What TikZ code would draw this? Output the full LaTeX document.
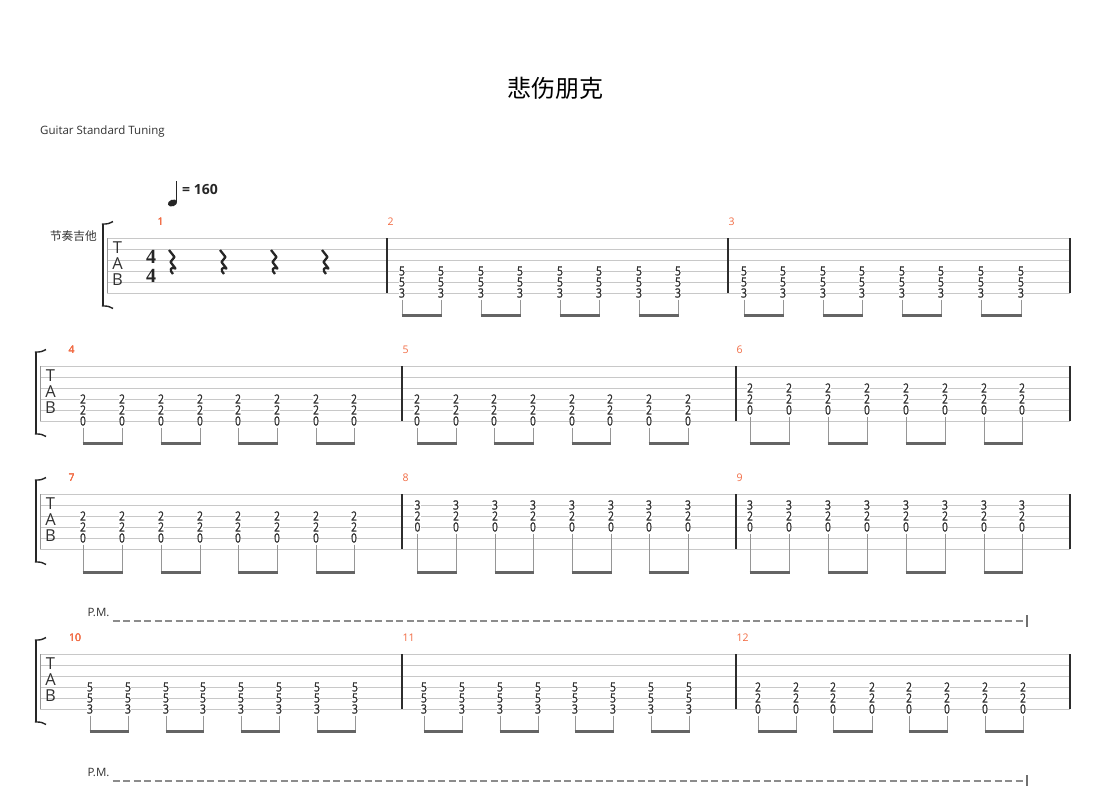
\documentclass[tikz,border=0pt]{standalone}
\usepackage{fontspec}
\setsansfont{Open Sans}
\newfontfamily\cjk{Noto Sans CJK SC}
\newfontfamily\sigfont{Liberation Serif}
\newfontfamily\fretfont[FakeStretch=0.8, FakeBold=1.3]{Open Sans}

\definecolor{linegray}{RGB}{200,200,200}
\definecolor{bargray}{RGB}{45,45,45}
\definecolor{inkgray}{RGB}{50,50,50}
\definecolor{stemgray}{RGB}{150,150,150}
\definecolor{beamgray}{RGB}{100,100,100}
\definecolor{numred}{RGB}{242,108,68}
\definecolor{pmgray}{RGB}{140,140,140}

\tikzset{
	staffline/.style={draw=linegray, line width=0.9pt},
	barline/.style={draw=bargray, line width=1.1pt},
	fret/.style={fill=white, inner sep=0.3pt, text=inkgray, font=\fretfont\fontsize{12.8}{12.8}\selectfont},
	stem/.style={draw=stemgray, line width=1pt, shorten <=1.5pt},
	beam/.style={draw=beamgray, line width=3pt, shorten <=-0.5pt, shorten >=-0.5pt},
	barnum/.style={anchor=west, inner sep=0pt, text=numred, font=\sffamily\fontsize{10.5}{10.5}\selectfont},
	tabletter/.style={inner sep=0pt, text=inkgray, font=\sffamily\fontsize{16.5}{16.5}\selectfont},
	timesig/.style={inner sep=0pt, text=black!85, font=\sigfont\bfseries\fontsize{20}{20}\selectfont},
	brace/.style={draw=black!85, line width=2.6pt},
	bracetip/.style={draw=black!85, line width=1.4pt},
	rest/.style={draw=black!85, line width=2.3pt, line join=round},
	pmtext/.style={inner sep=0pt, text=inkgray, font=\sffamily\fontsize{11.5}{11.5}\selectfont},
	pmline/.style={draw=pmgray, line width=1.2pt, dash pattern=on 7pt off 3.5pt},
	pmtick/.style={draw=pmgray!80!black, line width=1.3pt},
}

% six lines, bracket and TAB clef of one system
\newcommand\tabstaff[3]{%
	\foreach \k in {0,...,5}
		\draw[staffline] (#2,#1+11*\k) -- (1070,#1+11*\k);
	\draw[draw=linegray!75!black, line width=1pt] (#2,#1) -- (#2,#1+55);
	\draw[brace] (#2-4,#1-14) -- (#2-4,#1+68);
	\draw[bracetip] (#2-5.2,#1-14) .. controls (#2+1,#1-14) .. (#2+6,#1-16.5);
	\draw[bracetip] (#2-5.2,#1+68) .. controls (#2+1,#1+68) .. (#2+6,#1+70.5);
	\node (#3T)[tabletter]at (#2+10.5,#1+10) {T};
	\node (#3A)[tabletter]at (#2+10.5,#1+26) {A};
	\node (#3B)[tabletter]at (#2+10.5,#1+41.5) {B};
}
\newcommand\barat[2]{\draw[barline] (#2,#1) -- (#2,#1+55);}

% three stacked frets with a stem down to the beam
\newcommand\chord[6]{%
	\node (#1a)[fret]at (#2,#3) {#4};
	\node (#1b)[fret]at (#2,#3+11) {#5};
	\node (#1c)[fret]at (#2,#3+22) {#6};
	\coordinate (#1e) at (#2,\beamy);
	\draw[stem] (#1c.south) -- (#1e);
}
% four beamed pairs of eighths
\newcommand\eighths[6]{%
	\foreach \xa/\xb [count=\p] in {#2} {
		\chord{#1p\p l}{\xa}{#3}{#4}{#5}{#6}
		\chord{#1p\p r}{\xb}{#3}{#4}{#5}{#6}
		\draw[beam] (#1p\p le) -- (#1p\p re);
	}
}

\begin{document}
\begin{tikzpicture}[x=1pt, y=-1pt, every node/.style={font=\sffamily}]
	\fill[white] (0,0) rectangle (1110,785);
	\useasboundingbox (0,0) rectangle (1110,785);

	\node (title) at (555,88) {\cjk\fontsize{24}{24}\selectfont 悲伤朋克};
	\node (tuning)[anchor=west, inner sep=0pt, text=inkgray] at (40,132) {\fontsize{11.5}{11.5}\selectfont Guitar Standard Tuning};

	% tempo
	\fill[black!85, rotate around={20:(172.5,203)}] (172.5,203) ellipse [x radius=4.8, y radius=3.3];
	\draw[black!85, line width=1pt] (176.7,202) -- (176.7,181);
	\node (tempo)[anchor=west, inner sep=0pt, text=black!85] at (182,189) {\bfseries\fontsize{14}{14}\selectfont = 160};

	% system 1
	\node (instr)[anchor=east, inner sep=0pt, text=inkgray] at (97,236.5) {\cjk\fontsize{11.7}{11.7}\selectfont 节奏吉他};
	\tabstaff{238}{107}{s1}
	\node (ts1)[timesig]at (151,256.5) {4};
	\node (ts2)[timesig]at (151,275.5) {4};
	\foreach \x in {172,223,274,325}
		\draw[rest] (\x-3,250) -- (\x+2.5,257) -- (\x-1.5,262) -- (\x+3.5,268.5) .. controls (\x-1.5,266) and (\x-3,270.5) .. (\x+1,274);
	\foreach \x in {387,728,1070} \barat{238}{\x}
	\node (n1)[barnum]at (157.5,222) {1};
	\node (n2)[barnum]at (387.5,222) {2};
	\node (n3)[barnum]at (728.5,222) {3};
	\def\beamy{315}
	\eighths{m2}{402/441,481/520,560/599,639/678}{271}{5}{5}{3}
	\eighths{m3}{744/783,823/862,902/941,981/1021}{271}{5}{5}{3}

	% system 2
	\tabstaff{366}{40}{s2}
	\foreach \x in {402,736,1070} \barat{366}{\x}
	\node (n4)[barnum]at (68.5,350) {4};
	\node (n5)[barnum]at (402.5,350) {5};
	\node (n6)[barnum]at (736.5,350) {6};
	\def\beamy{443}
	\eighths{m4}{83/122,161/200,238/277,316/354}{399}{2}{2}{0}
	\eighths{m5}{417/456,494/533,572/610,649/688}{399}{2}{2}{0}
	\eighths{m6}{750/789,828/867,906/945,984/1022}{388}{2}{2}{0}

	% system 3
	\tabstaff{494}{40}{s3}
	\foreach \x in {402,736,1070} \barat{494}{\x}
	\node (n7)[barnum]at (68.5,478) {7};
	\node (n8)[barnum]at (402.5,478) {8};
	\node (n9)[barnum]at (736.5,478) {9};
	\def\beamy{572}
	\eighths{m7}{83/122,161/200,238/277,316/354}{516}{2}{2}{0}
	\eighths{m8}{417.5/456,495/533,572/611,649/688}{505}{3}{2}{0}
	\eighths{m9}{750/789,828/867,906/945,984/1022}{505}{3}{2}{0}

	% system 4, palm muted
	\node (pm1)[pmtext]at (98.5,612) {P.M.};
	\coordinate (pm1e) at (1027,621);
	\draw[pmline] (pm1.east |- pm1e) ++(3,0) -- (pm1e);
	\draw[pmtick] ([yshift=6pt]pm1e) -- ([yshift=-6pt]pm1e);
	\tabstaff{654}{40}{s4}
	\foreach \x in {402,736,1070} \barat{654}{\x}
	\node (n10)[barnum]at (69,638) {10};
	\node (n11)[barnum]at (402.5,638) {11};
	\node (n12)[barnum]at (736.5,638) {12};
	\def\beamy{731}
	\eighths{m10}{90/128,166/203,241/279,317/355}{687}{5}{5}{3}
	\eighths{m11}{424/462,500/538,575/613,651/689}{687}{5}{5}{3}
	\eighths{m12}{758/796,833/872,909/947,985/1023}{687}{2}{2}{0}
	\node (pm2)[pmtext]at (98.5,772) {P.M.};
	\coordinate (pm2e) at (1027,781);
	\draw[pmline] (pm2.east |- pm2e) ++(3,0) -- (pm2e);
	\draw[pmtick] ([yshift=6pt]pm2e) -- ([yshift=-6pt]pm2e);
\end{tikzpicture}
\end{document}
